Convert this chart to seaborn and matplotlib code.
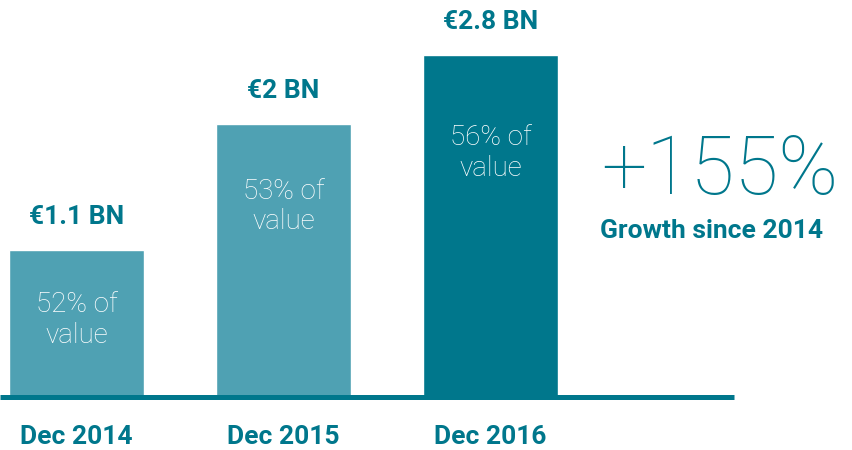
import matplotlib
matplotlib.use("Agg")
import matplotlib.pyplot as plt
import seaborn as sns
import pandas as pd

# data
periods = ["Dec 2014", "Dec 2015", "Dec 2016"]
value_bn = [1.1, 2.0, 2.8]                 # labels above bars
bar_height = [1.1, 2.04, 2.56]             # drawn heights (chart is not to scale)
share_of_value = [52, 53, 56]
growth_pct = 155
growth_note = "Growth since 2014"

LIGHT = "#4FA1B3"
DARK = "#00778C"
bar_colors = [LIGHT, LIGHT, DARK]

# layout: figure is 853x450 px, baseline at 397 px from top
W, H = 853, 450
PX_PER_X = 207.0          # distance between bar centres
X0_PX = 76.5              # centre of first bar
PX_PER_Y = 133.6          # px per drawn unit
BASE_PX = H - 397         # baseline from bottom

sns.set_theme(style="white")
plt.rcParams["font.family"] = ["Roboto", "DejaVu Sans"]

fig = plt.figure(figsize=(W / 100, H / 100), dpi=100)
ax = fig.add_axes([0, 0, 1, 1])

df = pd.DataFrame({"period": periods, "height": bar_height})
sns.barplot(data=df, x="period", y="height", hue="period", palette=bar_colors,
            width=135 / PX_PER_X, legend=False, saturation=1, ax=ax)

ax.set_xlim(-X0_PX / PX_PER_X, (W - X0_PX) / PX_PER_X)
ax.set_ylim(-BASE_PX / PX_PER_Y, (H - BASE_PX) / PX_PER_Y)
ax.axis("off")

def dy(px):
    return px / PX_PER_Y

def xd(px):
    return (px - X0_PX) / PX_PER_X

# baseline
ax.plot([xd(0), xd(734)], [0, 0], color=DARK, lw=3.6, solid_capstyle="butt")

inner_offset = [70, 82, 98]   # px from bar top to centre of inner text
for i, (v, h, s) in enumerate(zip(value_bn, bar_height, share_of_value)):
    lab = f"€{v:g} BN"
    ax.text(i, h + dy(33), lab, ha="center", va="center", color=DARK,
            fontsize=19, fontweight="bold")
    ax.text(i, h - dy(inner_offset[i]), f"{s}% of\nvalue", ha="center", va="center",
            color="white", fontsize=20, fontweight="light", linespacing=1.15)
    ax.text(i, -dy(40), periods[i], ha="center", va="center", color=DARK,
            fontsize=19, fontweight="bold")

ax.text(xd(720), (H - 172 - BASE_PX) / PX_PER_Y, f"+{growth_pct}%", ha="center",
        va="center", color=DARK, fontsize=58, fontweight="ultralight")
ax.text(xd(712), (H - 231 - BASE_PX) / PX_PER_Y, growth_note, ha="center",
        va="center", color=DARK, fontsize=19, fontweight="bold")

fig.savefig("out.png", dpi=100)
